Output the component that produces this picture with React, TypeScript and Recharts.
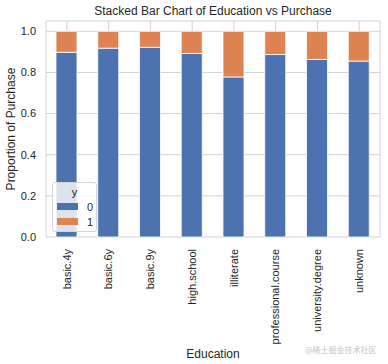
import { BarChart, Bar, XAxis, YAxis, CartesianGrid, ReferenceArea } from 'recharts'

const categories = ['basic.4y', 'basic.6y', 'basic.9y', 'high.school', 'illiterate', 'professional.course', 'university.degree', 'unknown']
const share0 = [0.898, 0.918, 0.922, 0.892, 0.778, 0.887, 0.863, 0.855]
const share1 = [0.102, 0.082, 0.078, 0.108, 0.222, 0.113, 0.137, 0.145]
const yTicks = [0, 0.2, 0.4, 0.6, 0.8, 1.0]
const seriesNames = ['0', '1']
const seriesColors = ['#4C72B0', '#DD8452']

const data = categories.map((c, i) => ({ edu: c, '0': share0[i], '1': share1[i] }))

const font = '"Liberation Sans", Arial, sans-serif'
const ink = '#262626'

const XTick = (props: any) => {
  const { x, y, payload } = props
  return (
    <text
      transform={`translate(${x},${y + 10}) rotate(-90)`}
      textAnchor="end"
      dy="0.35em"
      fontSize={11}
      fill={ink}
      fontFamily={font}
    >
      {payload.value}
    </text>
  )
}

const YLabel = (props: any) => {
  const { viewBox } = props
  const cy = viewBox.y + viewBox.height / 2
  return (
    <text
      transform={`translate(11,${cy}) rotate(-90)`}
      textAnchor="middle"
      dy="0.35em"
      fontSize={12}
      fill={ink}
      fontFamily={font}
    >
      Proportion of Purchase
    </text>
  )
}

export default function App() {
  return (
    <div style={{ position: 'absolute', left: 0, top: 0, width: 388, height: 364, background: '#fff', fontFamily: font }}>
      <div style={{ position: 'absolute', left: 46, width: 334, top: 4, textAlign: 'center', fontSize: 12, color: ink }}>
        Stacked Bar Chart of Education vs Purchase
      </div>
      <BarChart width={388} height={364} data={data} margin={{ top: 21, right: 8, bottom: 0, left: 0 }} barSize={21}>
        <CartesianGrid stroke="#cccccc" strokeWidth={0.9} />
        <XAxis
          dataKey="edu"
          height={127}
          tick={<XTick />}
          tickLine={false}
          tickSize={0}
          axisLine={false}
          interval={0}
          label={{ value: 'Education', position: 'insideBottom', offset: 6, fontSize: 12, fill: ink, fontFamily: font }}
        />
        <YAxis
          width={46}
          domain={[0, 1.05]}
          ticks={yTicks}
          tickFormatter={(v: number) => v.toFixed(1)}
          tick={{ fontSize: 11, fill: ink, fontFamily: font }}
          tickLine={false}
          tickSize={0}
          tickMargin={10}
          axisLine={false}
          label={<YLabel />}
        />
        {seriesNames.map((s, i) => (
          <Bar key={s} dataKey={s} stackId="a" fill={seriesColors[i]} stroke="#ffffff" strokeWidth={0.8} isAnimationActive={false} />
        ))}
        <ReferenceArea fill="none" stroke="#cccccc" strokeWidth={1} fillOpacity={0} ifOverflow="visible" />
      </BarChart>
      <div
        style={{
          position: 'absolute', left: 52, top: 182, width: 45, height: 50,
          border: '1px solid #d4d4d4', borderRadius: 3, background: 'rgba(255,255,255,0.8)',
          fontSize: 11, color: ink, boxSizing: 'border-box',
        }}
      >
        <div style={{ textAlign: 'center', marginTop: 2, height: 14, lineHeight: '14px' }}>y</div>
        {seriesNames.map((s, i) => (
          <div key={s} style={{ display: 'flex', alignItems: 'center', height: 15 }}>
            <span style={{ display: 'inline-block', width: 21, height: 7, background: seriesColors[i], marginLeft: 4 }} />
            <span style={{ marginLeft: 9 }}>{s}</span>
          </div>
        ))}
      </div>
      <div
        style={{
          position: 'absolute', left: 305, top: 344, whiteSpace: 'nowrap',
          fontSize: 8, lineHeight: '12px', color: '#c4c4c4', fontFamily: '"Noto Sans CJK SC", sans-serif',
        }}
      >
        @稀土掘金技术社区
      </div>
    </div>
  )
}
